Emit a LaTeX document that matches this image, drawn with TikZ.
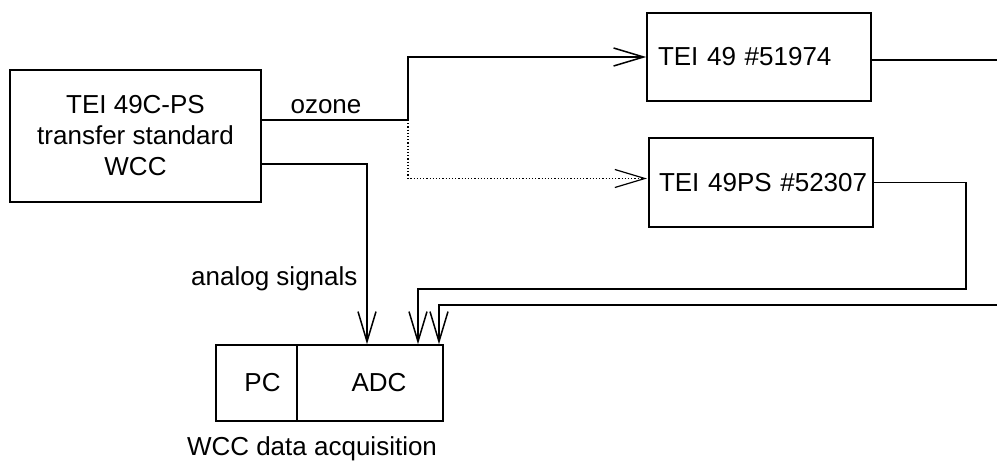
\documentclass[tikz,border=0pt]{standalone}
\usepackage{fontspec}
\setmainfont{Liberation Sans}
\usetikzlibrary{arrows.meta}

\begin{document}
\begin{tikzpicture}[x=1pt, y=-1pt,
    every node/.style={font=\fontsize{26}{31}\selectfont},
    unit/.style={draw, line width=1.6pt, inner sep=0pt},
    flow/.style={line width=1.5pt, -{Straight Barb[length=30pt, width=18pt, line width=1.5pt]}},
    spare/.style={line width=1.2pt, dotted, -{Straight Barb[length=30pt, width=18pt, line width=1.2pt, sep]}}
  ]
    \useasboundingbox (0,0) rectangle (997,463);

    % Instruments
    \node[unit, minimum width=251pt, minimum height=132pt, align=center] (std) at (135.5,136)
        {TEI 49C-PS\\transfer standard\\WCC};
    \node[unit, minimum width=224pt, minimum height=88pt, text width=202pt, inner xsep=11pt, align=left] (tei49) at (759,57)
        {\mbox{TEI 49 \#51974}};
    \node[unit, minimum width=224pt, minimum height=89pt, text width=204pt, inner xsep=10pt, align=left] (tei49ps) at (761,182.5)
        {\mbox{TEI 49PS \#52307}};

    % Data acquisition
    \node[unit, minimum width=81pt, minimum height=76pt] (pc) at (256.5,383) {\hspace{12pt}PC};
    \node[unit, minimum width=146pt, minimum height=76pt] (adc) at (370,383) {\hspace{18pt}ADC};
    \node (daq) at (312,449) {WCC data acquisition};

    % Ozone distribution
    \coordinate (split) at (408,120);
    \draw[line width=1.5pt] (std.east |- split) -- (split);
    \draw[flow] (split) |- (tei49.west);
    \draw[spare] (split) |- ([yshift=4pt]tei49ps.west);
    \node (ozone) at (326,107) {ozone};

    % Analog signals
    \draw[flow] ([yshift=-28pt]std.east) -| ([xshift=-3pt]adc.north);
    \node[anchor=east] (analog) at (361,279) {analog signals};

    \coordinate (turn) at (966,289);
    \draw[flow] (tei49ps.east) -| (turn) -| ([xshift=48pt]adc.north);

    \coordinate (out) at (997,60);
    \draw[line width=1.5pt] (tei49.east |- out) -- (out);

    \coordinate (in) at (997,305);
    \draw[flow] (in) -| ([xshift=69pt]adc.north);
\end{tikzpicture}
\end{document}
